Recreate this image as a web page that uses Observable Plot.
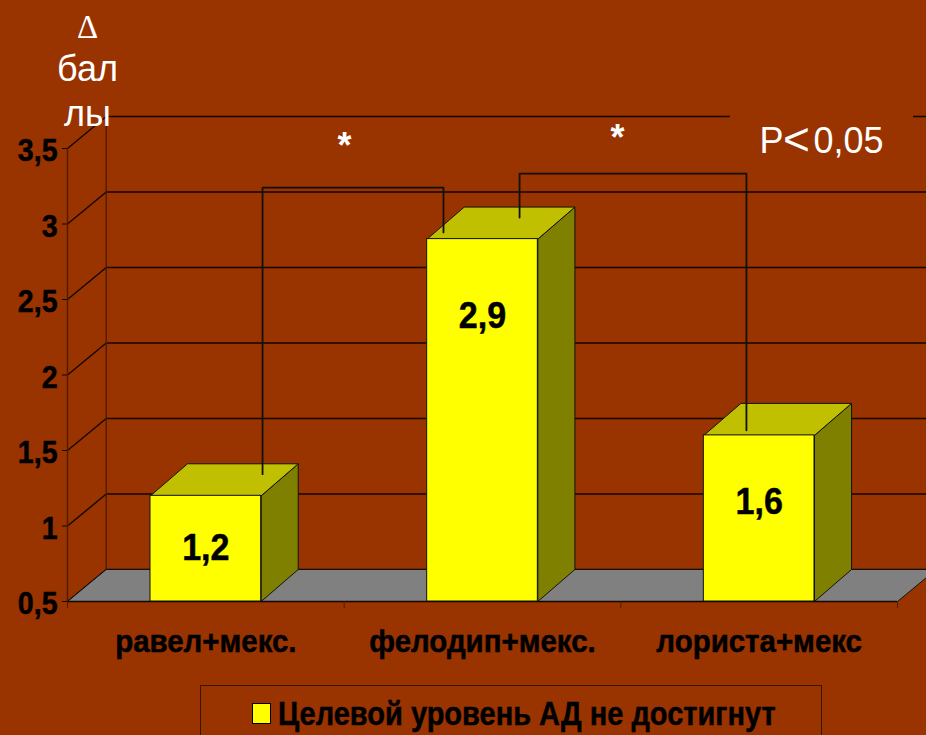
<!DOCTYPE html>
<html lang="ru">
<head>
<meta charset="utf-8">
<script src="https://cdn.jsdelivr.net/npm/d3@7"></script>
<script src="https://cdn.jsdelivr.net/npm/@observablehq/plot@0.6"></script>
<style>
html,body{margin:0;padding:0;width:926px;height:735px;overflow:hidden;background:#993300}
svg{display:block;background:#993300 !important}
#legend{position:absolute;left:200px;top:685px;width:622px;height:60px;box-sizing:border-box;border:1.5px solid #3a1500;
  font:bold 29px "Liberation Sans",Arial,sans-serif;color:#000;white-space:nowrap}
#legend i{position:absolute;left:51px;top:17px;width:17px;height:19px;background:#ff0;border:1px solid #000;box-sizing:content-box}
#legend span{position:absolute;left:77px;top:10px;line-height:36px;transform:scaleY(1.12);transform-origin:left center;-webkit-text-stroke:0.4px #000}
</style>
</head>
<body>
<div id="chart"></div>
<div id="legend"><i></i><span>Целевой уровень АД не достигнут</span></div>
<script>
const categories = ["равел+мекс.", "фелодип+мекс.", "лориста+мекс"];
const values = [1.2, 2.9, 1.6];
const valueLabels = ["1,2", "2,9", "1,6"];
const labelHeights = [0.85, 2.39, 1.16];
const yTicks = [0.5, 1, 1.5, 2, 2.5, 3, 3.5];
const xBoundaries = [-0.5, 0.5, 1.5, 2.5];
const barHalf = 0.2;
const depthX = 0.14;
const barDepthX = 0.134;
const depthY = 0.212;
const xMin = -0.5, xMax = 2.5, yMin = 0.5, yMax = 3.5;
const xOver = 2.7;
const topRuleSegments = [[xMin + depthX, 1.896], [2.558, xOver]];
const bracketA = [[0.205, 1.343], [0.205, 3.241], [0.859, 3.241], [0.859, 2.944]];
const bracketB = [[1.134, 3.043], [1.134, 3.334], [1.954, 3.334], [1.954, 1.634]];

const bg = "#993300", gridC = "#140600", axisC = "#4f1c00";
const font = '"Liberation Sans",Arial,sans-serif';

const floorPoly = [[xMin, yMin], [xMin + depthX, yMin + depthY], [xMax + depthX, yMin + depthY], [xMax, yMin], [xMin, yMin]];

const bars = values.map((v, i) => ({i, v, label: valueLabels[i], at: labelHeights[i]}));
const sidePts = bars.flatMap(b => [
  [b.i + barHalf, yMin], [b.i + barHalf + barDepthX, yMin + depthY],
  [b.i + barHalf + barDepthX, b.v + depthY], [b.i + barHalf, b.v], [b.i + barHalf, yMin]
].map(p => ({x: p[0], y: p[1], z: b.i})));
const topPts = bars.flatMap(b => [
  [b.i - barHalf, b.v], [b.i - barHalf + barDepthX, b.v + depthY],
  [b.i + barHalf + barDepthX, b.v + depthY], [b.i + barHalf, b.v], [b.i - barHalf, b.v]
].map(p => ({x: p[0], y: p[1], z: b.i})));

const fmt = d => String(d).replace(".", ",");
const px = p => p[0], py = p => p[1];
const note = (t, dx, dy, size, extra = {}) => Plot.text([t], {frameAnchor: "top-left", textAnchor: "middle", dx, dy, fontSize: size, fill: "#fff", ...extra});

const plot = Plot.plot({
  width: 926, height: 685,
  marginLeft: 67, marginRight: 29, marginTop: 148, marginBottom: 84,
  style: {background: bg, fontFamily: font, overflow: "hidden"},
  x: {type: "linear", domain: [xMin, xMax]},
  y: {type: "linear", domain: [yMin, yMax]},
  marks: [
    Plot.ruleY(yTicks.slice(0, -1), {y: d => d + depthY, x1: xMin + depthX, x2: xOver, stroke: gridC, strokeWidth: 1.7}),
    Plot.ruleY(topRuleSegments, {y: yMax + depthY, x1: d => d[0], x2: d => d[1], stroke: gridC, strokeWidth: 1.7}),
    Plot.link(yTicks, {x1: xMin, y1: d => d, x2: xMin + depthX, y2: d => d + depthY, stroke: gridC, strokeWidth: 1.4}),
    Plot.ruleX([xMin + depthX], {y1: yMin + depthY, y2: yMax + depthY, stroke: axisC, strokeWidth: 1.4}),
    Plot.line(floorPoly, {x: px, y: py, fill: "#808080", stroke: "#111", strokeWidth: 1}),
    Plot.ruleX([xMin], {y1: yMin, y2: yMax, stroke: axisC, strokeWidth: 1.4}),
    Plot.ruleY([yMin], {x1: xMin, x2: xMax, stroke: gridC, strokeWidth: 1.7}),
    Plot.axisY({ticks: yTicks, tickFormat: () => "", tickSize: 5, stroke: gridC, label: null}),
    Plot.axisY({ticks: yTicks, tickFormat: fmt, tickSize: 0, tickPadding: 10, dy: 3, fontSize: 31, fontWeight: "bold", fill: "#000", label: null}),
    Plot.axisX({ticks: xBoundaries, tickFormat: () => "", tickSize: 7, stroke: axisC, label: null}),
    Plot.axisX({ticks: [0, 1, 2], tickFormat: i => categories[i], tickSize: 0, tickPadding: 28, fontSize: 32, fontWeight: "bold", fill: "#000", label: null}),
    Plot.line(sidePts, {x: "x", y: "y", z: "z", fill: "#808000", stroke: "#111", strokeWidth: 1}),
    Plot.line(topPts, {x: "x", y: "y", z: "z", fill: "#c0c000", stroke: "#111", strokeWidth: 1}),
    Plot.rect(bars, {x1: d => d.i - barHalf, x2: d => d.i + barHalf, y1: yMin, y2: "v", fill: "#ffff00", stroke: "#111", strokeWidth: 1}),
    Plot.text(bars, {x: "i", y: "at", text: "label", fontSize: 37, fontWeight: "bold", fill: "#000"}),
    Plot.line(bracketA, {x: px, y: py, stroke: "#111", strokeWidth: 1.8}),
    Plot.line(bracketB, {x: px, y: py, stroke: "#111", strokeWidth: 1.8}),
    note("Δ", 20, -123, 33, {fontFamily: '"Liberation Serif",serif', dy: -134}),
    note("бал", 20, -93, 36),
    note("лы", 20, -48, 36),
    note("*", 277, -16, 36, {fontWeight: "bold"}),
    note("*", 550, -24, 36, {fontWeight: "bold"}),
    note("P", 704, -21, 36),
    note("<", 729, -26, 46),
    note("0,05", 781, -21, 36)
  ]
});
document.getElementById("chart").appendChild(plot);

// The reference's bold labels are drawn tall and narrow: keep them as real text, condensed horizontally.
const condense = (text, ratio) => {
  text.setAttribute("textLength", text.getComputedTextLength() * ratio);
  text.setAttribute("lengthAdjust", "spacingAndGlyphs");
  text.style.stroke = "#000";
  text.style.strokeWidth = "0.5px";
};
plot.querySelectorAll("text").forEach(t => {
  const s = t.textContent;
  if (valueLabels.includes(s) || categories.includes(s) || yTicks.map(fmt).includes(s)) condense(t, 0.92);
});
</script>
</body>
</html>
